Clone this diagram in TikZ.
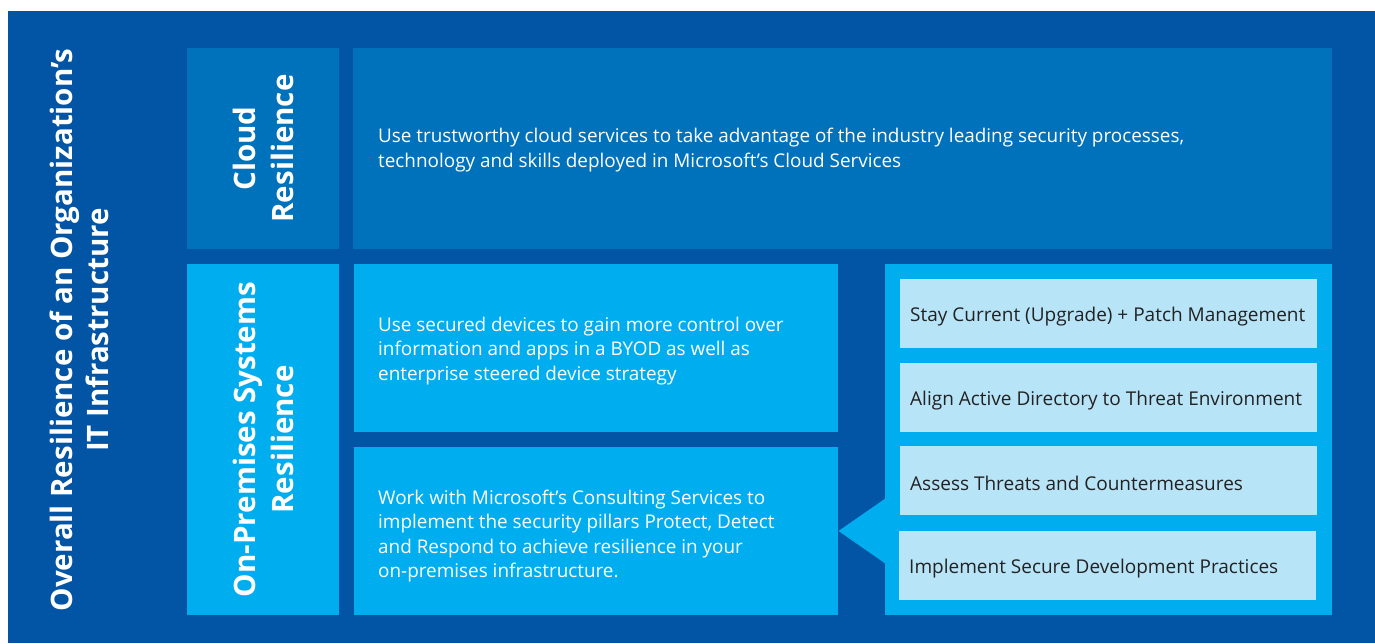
\documentclass[tikz,border=0pt]{standalone}
\usepackage{fontspec}
\setmainfont{Open Sans}
\definecolor{darkb}{RGB}{2,84,165}
\definecolor{cloudc}{RGB}{0,113,187}
\definecolor{lightc}{RGB}{0,174,239}
\definecolor{palec}{RGB}{184,228,248}
\definecolor{inkc}{RGB}{34,34,34}
\tikzset{
  panel/.style={draw=none, inner sep=0pt, outer sep=0pt, anchor=north west},
  bodytext/.style={text=white, font=\fontsize{18.9}{24.3}\selectfont, align=left, anchor=west, inner sep=0pt},
  vlabel/.style={text=white, font=\bfseries\fontsize{29.5}{38}\selectfont, align=center, rotate=90, inner sep=0pt},
  item/.style={panel, fill=palec, minimum width=417pt, minimum height=69pt},
  itemtext/.style={text=inkc, font=\fontsize{19}{24}\selectfont, anchor=west, inner sep=0pt}
}
\begin{document}
\begin{tikzpicture}[x=1pt,y=-1pt]
\useasboundingbox (0,0) rectangle (1375,643);
\fill[white] (0,0) rectangle (1375,643);
\fill[darkb] (8,11) rectangle (1375,643);
% main title
\node[vlabel, font=\bfseries\fontsize{29.5}{36}\selectfont] (title) at (79,330) {Overall Resilience of an Organization’s\\IT Infrastructure};
% cloud row
\node[panel, fill=cloudc, minimum width=152pt, minimum height=201pt] (cloudbox) at (187,48) {};
\node[vlabel] (cloudlbl) at (cloudbox.center) {Cloud\\Resilience};
\node[panel, fill=cloudc, minimum width=979pt, minimum height=201pt] (cloudtextbox) at (353,48) {};
\node[bodytext] (cloudtext) at ([xshift=25pt,yshift=-1.5pt]cloudtextbox.west) {Use trustworthy cloud services to take advantage of the industry leading security processes,\\technology and skills deployed in Microsoft’s Cloud Services};
% on-premises row
\node[panel, fill=lightc, minimum width=152pt, minimum height=351pt] (onpbox) at (187,264) {};
\node[vlabel] (onplbl) at (onpbox.center) {On-Premises Systems\\Resilience};
\node[panel, fill=lightc, minimum width=484pt, minimum height=168pt] (devbox) at (354,264) {};
\node[bodytext] (devtext) at ([xshift=24pt,yshift=-3pt]devbox.west) {Use secured devices to gain more control over\\information and apps in a BYOD as well as\\enterprise steered device strategy};
\node[panel, fill=lightc, minimum width=484pt, minimum height=168pt] (consbox) at (354,447) {};
\node[bodytext] (constext) at ([xshift=24pt,yshift=-5pt]consbox.west) {Work with Microsoft’s Consulting Services to\\implement the security pillars Protect, Detect\\and Respond to achieve resilience in your\\on-premises infrastructure.};
% right panel with callout
\node[panel, fill=lightc, minimum width=447pt, minimum height=351pt] (rightbox) at (885,264) {};
\fill[lightc] (886,498) -- (838.5,531) -- (886,564) -- cycle;
\node[item] (i1) at (900,279) {};
\node[item] (i2) at (900,363) {};
\node[item] (i3) at (900,446) {};
\node[item] (i4) at (899,531) {};
\node[itemtext] at ([xshift=10pt,yshift=-3pt]i1.west) {Stay Current (Upgrade) + Patch Management};
\node[itemtext] at ([xshift=10pt,yshift=-3pt]i2.west) {Align Active Directory to Threat Environment};
\node[itemtext] at ([xshift=10pt,yshift=-3pt]i3.west) {Assess Threats and Countermeasures};
\node[itemtext] at ([xshift=10pt,yshift=-3pt]i4.west) {Implement Secure Development Practices};
\end{tikzpicture}
\end{document}
